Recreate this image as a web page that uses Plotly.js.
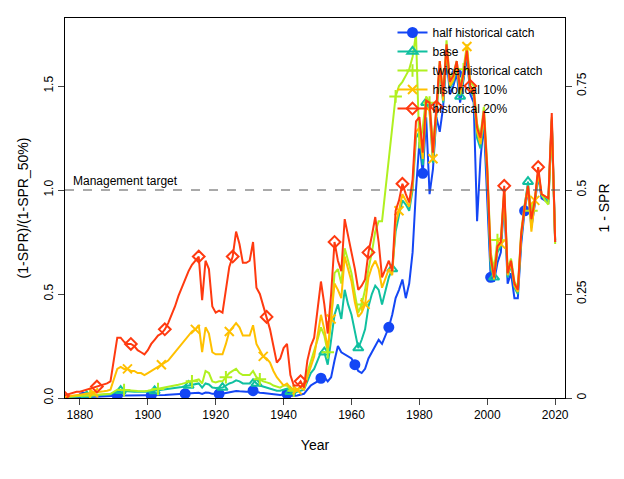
<!DOCTYPE html>
<html><head><meta charset="utf-8">
<script src="https://cdn.plot.ly/plotly-3.0.1.min.js"></script>
<style>body{margin:0}#c{width:624px;height:479px}</style></head>
<body><div id="c"></div>
<script>
const startYear = 1875, endYear = 2020;
const years = [];
for (let y = startYear; y <= endYear; y++) years.push(y);

const half = [
.001,.002,.002,.003,.003,.004,.004,.005,.005,.006,
.006,.007,.007,.008,.008,.01,.012,.012,.012,.012,
.012,.012,.012,.012,.012,.013,.013,.014,.014,.015,
.015,.016,.017,.018,.019,.02,.021,.022,.023,.024,
.025,.02,.026,.025,.02,.02,.02,.02,.024,.028,
.03,.034,.032,.03,.03,.03,.035,.03,.025,.024,
.022,.02,.018,.016,.015,.017,.02,.012,.01,.012,
.015,.02,.04,.06,.07,.08,.095,.10,.08,.10,
.18,.25,.22,.21,.20,.19,.16,.13,.12,.14,
.19,.22,.25,.28,.26,.30,.34,.40,.48,.52,
.57,.48,.55,.70,1.00,1.23,1.08,1.35,.98,1.10,
1.35,1.28,1.40,1.64,1.46,1.50,1.56,1.42,1.52,1.64,
1.46,1.42,.85,1.15,1.32,.98,.58,.56,.65,.70,
.96,.55,.60,.48,.48,.74,.90,1.00,.82,.93,
1.07,.96,.95,.94,1.33,.75];
const base = [
.003,.004,.005,.006,.007,.008,.009,.01,.011,.012,
.013,.014,.015,.016,.018,.025,.035,.035,.033,.032,
.032,.03,.03,.029,.028,.03,.032,.034,.036,.038,
.04,.042,.045,.048,.05,.053,.056,.06,.063,.065,
.07,.05,.07,.065,.05,.048,.05,.05,.06,.07,
.075,.085,.08,.07,.07,.07,.09,.07,.06,.055,
.05,.045,.04,.035,.035,.04,.045,.03,.025,.03,
.035,.04,.08,.12,.14,.18,.22,.22,.16,.28,
.40,.45,.38,.52,.45,.40,.32,.24,.28,.33,
.44,.50,.54,.52,.45,.52,.58,.62,.80,.88,
.95,.93,.90,1.00,1.25,1.28,1.12,1.42,1.38,1.13,
1.37,1.58,1.42,1.66,1.49,1.52,1.59,1.45,1.54,1.66,
1.48,1.45,1.25,1.20,1.35,1.05,.62,.58,.70,.73,
.98,.58,.64,.53,.50,.77,.92,1.04,.84,.94,
1.08,.97,.96,.95,1.34,.76];
const twice = [
.004,.005,.006,.007,.008,.009,.01,.011,.012,.013,
.014,.015,.017,.019,.02,.03,.04,.04,.038,.037,
.036,.035,.034,.033,.033,.035,.038,.04,.043,.046,
.05,.053,.056,.06,.064,.068,.072,.076,.08,.085,
.09,.07,.13,.12,.08,.075,.08,.08,.10,.12,
.13,.14,.12,.11,.11,.11,.13,.10,.09,.08,
.075,.07,.06,.055,.05,.06,.06,.04,.035,.04,
.05,.07,.12,.18,.22,.28,.34,.30,.22,.38,
.60,.62,.55,.72,.66,.60,.50,.41,.45,.52,
.62,.70,.80,.85,.85,1.00,1.18,1.30,1.45,1.50,
1.52,1.55,1.58,1.64,1.75,1.20,1.30,1.45,1.42,1.22,
1.38,1.62,1.46,1.72,1.53,1.56,1.62,1.50,1.58,1.70,
1.52,1.50,1.32,1.26,1.40,1.12,.70,.62,.76,.77,
1.00,.62,.67,.56,.53,.80,.93,1.02,.90,.96,
1.08,.98,.95,.93,1.32,.74];
const hist10 = [
.005,.007,.01,.012,.015,.015,.018,.02,.022,.025,
.027,.03,.032,.035,.04,.09,.14,.15,.14,.14,
.13,.13,.12,.12,.11,.12,.13,.14,.15,.16,
.17,.18,.20,.22,.24,.26,.28,.30,.32,.33,
.35,.22,.34,.31,.22,.21,.21,.21,.26,.32,
.34,.36,.34,.30,.30,.30,.35,.26,.23,.20,
.19,.17,.13,.10,.08,.06,.07,.05,.04,.04,
.05,.04,.10,.15,.20,.30,.40,.33,.24,.38,
.55,.52,.48,.68,.62,.56,.46,.39,.41,.45,
.58,.63,.66,.62,.53,.58,.62,.59,.84,.90,
.98,.95,.92,1.02,1.28,1.30,1.15,1.40,1.38,1.15,
1.38,1.60,1.43,1.68,1.50,1.53,1.60,1.46,1.55,1.69,
1.49,1.46,1.28,1.22,1.36,1.08,.66,.57,.72,.74,
.99,.59,.65,.54,.51,.78,.91,1.01,.80,.95,
1.09,.98,.97,.96,1.35,.76];
const hist20 = [
.01,.015,.02,.025,.03,.03,.035,.04,.045,.05,
.055,.06,.065,.07,.08,.18,.29,.29,.27,.26,
.26,.25,.23,.22,.21,.23,.26,.28,.30,.31,
.33,.36,.40,.44,.49,.53,.57,.61,.64,.66,
.68,.47,.66,.62,.44,.41,.42,.41,.52,.63,
.68,.80,.74,.65,.65,.66,.75,.53,.50,.44,
.39,.33,.25,.17,.19,.24,.26,.11,.06,.06,
.08,.05,.18,.25,.29,.42,.56,.45,.31,.50,
.75,.66,.61,.86,.78,.71,.62,.52,.54,.57,
.70,.78,.87,.75,.58,.62,.66,.61,.90,.95,
1.03,.98,.94,1.05,1.33,1.35,1.18,1.43,1.42,1.18,
1.40,1.62,1.45,1.70,1.52,1.55,1.62,1.48,1.56,1.67,
1.50,1.48,1.30,1.25,1.38,1.10,.68,.58,.73,.75,
1.02,.60,.66,.55,.52,.79,.92,1.02,.86,.95,
1.11,.98,.97,.96,1.37,.75];

const seriesNames = ["half historical catch","base","twice historical catch","historical 10%","historical 20%"];
const seriesData = [half, base, twice, hist10, hist20];
const colors = ["#1446f5","#10c0a0","#b0f020","#ffc000","#ff3a10"];
const symbols = ["circle","triangle-up-open","cross-thin-open","x-thin-open","diamond-open"];
const markerMod = [1,2,3,4,5];

const traces = [];
seriesData.forEach((d,i)=>{
  traces.push({x:years,y:d,type:"scatter",mode:"lines",line:{color:colors[i],width:2},showlegend:false,hoverinfo:"skip"});
  const mx=[],my=[];
  years.forEach((y,k)=>{ if(((y%10)+10)%10===markerMod[i]%10){mx.push(y);my.push(d[k]);} });
  traces.push({x:mx,y:my,type:"scatter",mode:"markers",marker:{symbol:symbols[i],color:colors[i],size:9,line:{color:colors[i],width:2}},showlegend:false});
});
seriesData.forEach((d,i)=>{
  traces.push({x:[null],y:[null],type:"scatter",mode:"lines+markers",name:seriesNames[i],
    line:{color:colors[i],width:2},marker:{symbol:symbols[i],color:colors[i],size:9,line:{color:colors[i],width:2}}});
});
traces.push({x:[years[0]],y:[0],yaxis:"y2",type:"scatter",mode:"markers",marker:{opacity:0},showlegend:false,hoverinfo:"skip"});

const ymax = 1.827;
const layout = {
  width:624,height:479,margin:{l:65,r:59,t:18,b:81},
  paper_bgcolor:"#fff",plot_bgcolor:"#fff",
  font:{family:"Liberation Sans, Arial, sans-serif",size:12,color:"#000"},
  xaxis:{range:[1875.6,2022.9],tickvals:[1880,1900,1920,1940,1960,1980,2000,2020],ticks:"outside",ticklen:6,
    showgrid:false,zeroline:false,showline:true,mirror:true,linecolor:"#000",linewidth:1,
    title:{text:"Year",standoff:18}},
  yaxis:{range:[0,ymax],tickvals:[0,0.5,1,1.5],ticktext:["0.0","0.5","1.0","1.5"],tickangle:-90,ticks:"outside",ticklen:6,
    showgrid:false,zeroline:false,showline:true,mirror:true,linecolor:"#000",
    title:{text:"(1-SPR)/(1-SPR_50%)",standoff:10}},
  yaxis2:{overlaying:"y",side:"right",range:[0,ymax/2],tickvals:[0,0.25,0.5,0.75],ticktext:["0","0.25","0.5","0.75"],
    tickangle:-90,ticks:"outside",ticklen:6,showgrid:false,zeroline:false,showline:false,
    title:{text:"1 - SPR",standoff:10}},
  legend:{x:0.655,y:1.0,xanchor:"left",yanchor:"top",bgcolor:"rgba(0,0,0,0)",font:{size:12},tracegroupgap:0},
  shapes:[{type:"line",xref:"paper",x0:0,x1:1,yref:"y",y0:1,y1:1,line:{color:"#555",width:1,dash:"dash"}}],
  annotations:[{x:1877.5,y:1,xref:"x",yref:"y",text:"Management target",showarrow:false,xanchor:"left",yanchor:"bottom",font:{size:12}}]
};
Plotly.newPlot("c",traces,layout,{displayModeBar:false});
</script></body></html>
